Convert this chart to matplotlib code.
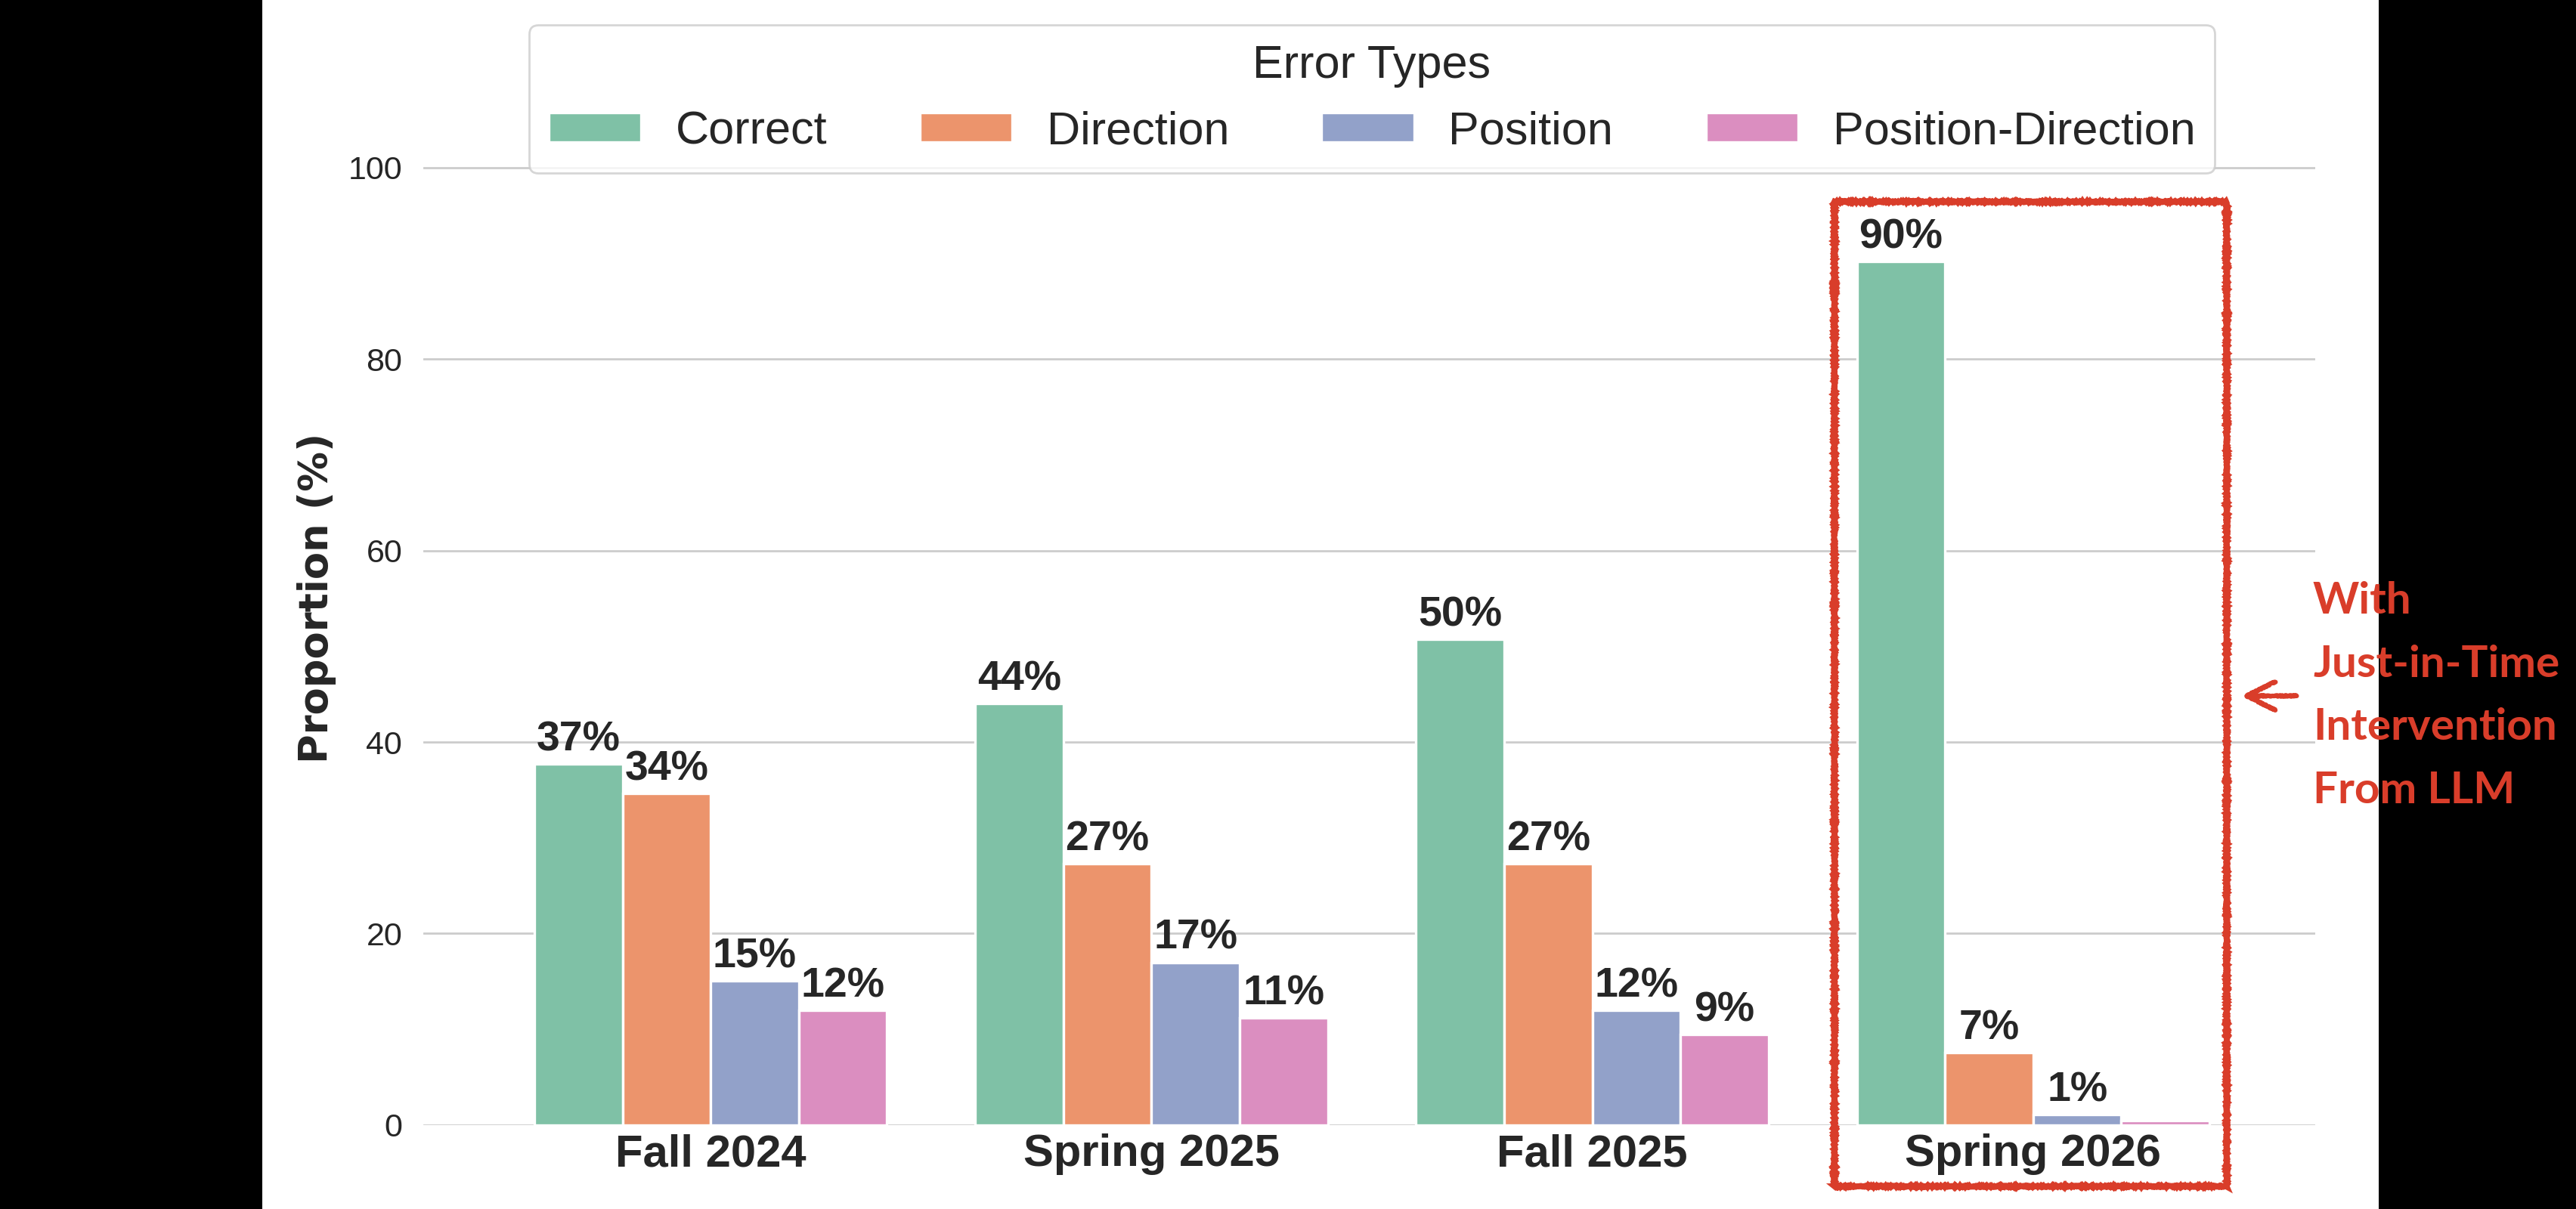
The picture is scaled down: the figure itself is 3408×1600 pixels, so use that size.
import matplotlib
matplotlib.use('Agg')
import matplotlib.pyplot as plt
import matplotlib.patches as mpatches
import pandas as pd
import seaborn as sns

semesters = ['Fall 2024', 'Spring 2025', 'Fall 2025', 'Spring 2026']
error_types = ['Correct', 'Direction', 'Position', 'Position-Direction']
correct = [37.7, 44.0, 50.7, 90.2]
direction = [34.6, 27.3, 27.3, 7.6]
position = [15.1, 17.0, 12.0, 1.1]
position_direction = [12.0, 11.2, 9.5, 0.5]
y_ticks = [0, 20, 40, 60, 80, 100]
colors = ['#7fc1a6', '#ec946c', '#92a1c9', '#db8ec0']

red = '#d93d2a'

rows = []
for name, vals in zip(error_types, [correct, direction, position, position_direction]):
    for sem, v in zip(semesters, vals):
        rows.append({'Semester': sem, 'Error Types': name, 'Proportion': v})
df = pd.DataFrame(rows)

sns.set_theme(style='whitegrid')
plt.rcParams['font.family'] = ['Liberation Sans', 'DejaVu Sans']

fig = plt.figure(figsize=(17.04, 8), dpi=200, facecolor='black')
# white panel in the middle, black strips on both sides
fig.patches.append(mpatches.Rectangle((0.1018, 0), 0.8215, 1, transform=fig.transFigure,
                                      facecolor='white', edgecolor='none', zorder=-1))
ax = fig.add_axes([0.1643, 0.0694, 0.7345, 0.8713])

sns.barplot(data=df, x='Semester', y='Proportion', hue='Error Types', order=semesters,
            hue_order=error_types, palette=colors, saturation=1, edgecolor='white',
            linewidth=1.2, ax=ax)

for cont in ax.containers:
    labels = [f'{int(b.get_height())}%' if int(b.get_height()) > 0 else '' for b in cont]
    ax.bar_label(cont, labels=labels, padding=2, fontsize=20, fontweight='bold', color='#262626')

ax.set_xlim(-0.652, 3.64)
ax.set_ylim(0, 110)
ax.set_yticks(y_ticks)
ax.set_xlabel('')
ax.set_ylabel('Proportion (%)', fontsize=19, fontweight='bold', family='DejaVu Sans', color='#262626')
ax.yaxis.set_label_coords(-0.046, 0.5)
ax.tick_params(axis='y', labelsize=15.5, pad=10, colors='#262626', length=0)
ax.tick_params(axis='x', length=0, pad=4)
for t in ax.get_xticklabels():
    t.set_fontsize(21.5)
    t.set_fontweight('bold')
    t.set_color('#262626')
ax.xaxis.grid(False)
sns.despine(ax=ax, left=True, bottom=True)

handles, labels = ax.get_legend_handles_labels()
ax.legend(handles, labels, title='Error Types', loc='upper center',
          bbox_to_anchor=(1815 / 3408, 1 - 33 / 1600), bbox_transform=fig.transFigure,
          ncol=4, fontsize=22, title_fontsize=22, handlelength=2.0, handleheight=0.6,
          handletextpad=0.75, columnspacing=2.0, borderpad=0.42, borderaxespad=0,
          frameon=True, fancybox=True)

# hand drawn box round the last semester
box = mpatches.Rectangle((3 - 0.45, -6.4), 0.89, 102.8, fill=False, edgecolor=red,
                         linewidth=2.8, clip_on=False, zorder=5)
box.set_sketch_params(0.8, 2, 2)
ax.add_patch(box)

arr = ax.annotate('', xy=(2960 / 3408, 1 - 921 / 1600), xytext=(3044 / 3408, 1 - 921 / 1600),
                  xycoords='figure fraction', textcoords='figure fraction',
                  arrowprops=dict(arrowstyle='->', color=red, lw=2.2, mutation_scale=34))
arr.arrow_patch.set_sketch_params(0.8, 2, 2)

fig.text(3060 / 3408, 1 - 921 / 1600, 'With\nJust-in-Time\nIntervention\nFrom LLM',
         ha='left', va='center', fontsize=21, fontweight='bold',
         family='Lato', color=red, linespacing=1.72)

fig.savefig('out.png', dpi=200, facecolor=fig.get_facecolor())
